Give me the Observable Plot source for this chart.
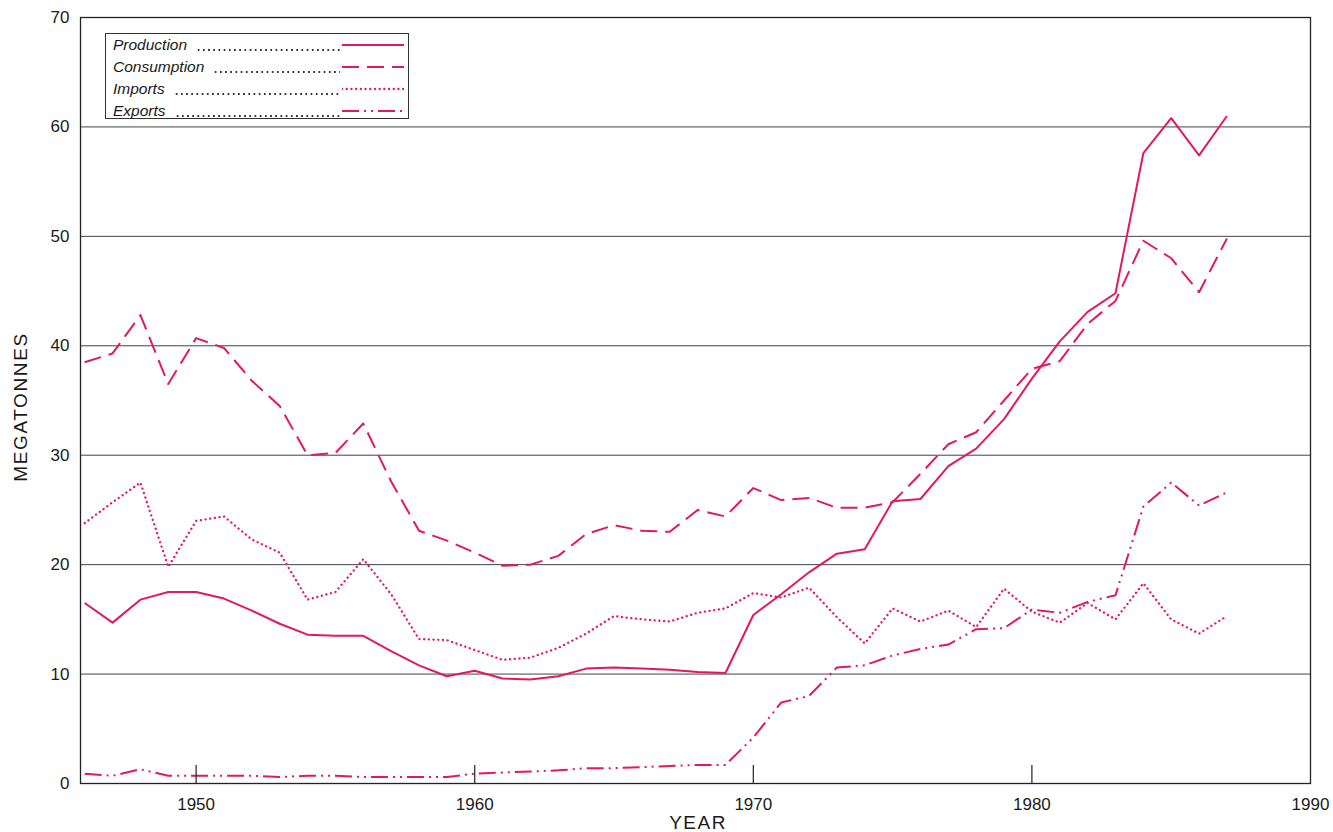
<!DOCTYPE html>
<html>
<head>
<meta charset="utf-8">
<script src="https://cdn.jsdelivr.net/npm/d3@7"></script>
<script src="https://cdn.jsdelivr.net/npm/@observablehq/plot@0.6"></script>
<style>
  html, body { margin: 0; padding: 0; background: #fff; }
  #wrap { position: relative; width: 1333px; height: 832px; overflow: hidden; font-family: "Liberation Sans", Arial, sans-serif; }
  #legend { position: absolute; left: 105px; top: 33px; width: 304px; height: 86px; border: 1px solid #333; background: #fff; box-sizing: border-box; }
  .row { display: flex; align-items: center; height: 22px; padding-left: 7px; padding-right: 4px; }
  .lab { font-style: italic; font-size: 15.5px; color: #1a1a1a; white-space: nowrap; }
  .lead { flex: 1; height: 4px; margin-left: 9px; margin-right: 2px; position: relative; top: 5px;
          background-image: radial-gradient(circle, #333 0.85px, transparent 1.15px);
          background-size: 5.2px 4px; background-repeat: repeat-x; background-position: left center; }
  .ylab { position: absolute; left: 21px; top: 407px; transform: translate(-50%, -50%) rotate(-90deg); font-size: 19px; letter-spacing: 1.6px; color: #1a1a1a; white-space: nowrap; }
  .xlab { position: absolute; left: 698px; top: 823px; transform: translate(-50%, -50%); font-size: 19px; letter-spacing: 1.5px; color: #1a1a1a; white-space: nowrap; }
</style>
</head>
<body>
<div id="wrap"></div>
<script>
const years = [1946,1947,1948,1949,1950,1951,1952,1953,1954,1955,
               1956,1957,1958,1959,1960,1961,1962,1963,1964,1965,
               1966,1967,1968,1969,1970,1971,1972,1973,1974,1975,
               1976,1977,1978,1979,1980,1981,1982,1983,1984,1985,
               1986,1987];
const production = [16.5,14.7,16.8,17.5,17.5,16.9,15.8,14.6,13.6,13.5,
                    13.5,12.1,10.8,9.8,10.3,9.6,9.5,9.8,10.5,10.6,
                    10.5,10.4,10.2,10.1,15.4,17.3,19.3,21.0,21.4,25.8,
                    26.0,29.0,30.6,33.3,37.0,40.4,43.1,44.8,57.6,60.8,
                    57.4,61.0];
const consumption = [38.5,39.3,42.8,36.5,40.7,39.8,36.8,34.5,30.0,30.2,
                     32.9,27.6,23.1,22.2,21.1,19.9,20.0,20.8,22.8,23.6,
                     23.1,23.0,25.0,24.4,27.0,25.9,26.1,25.2,25.2,25.7,
                     28.3,31.0,32.1,35.0,37.9,38.6,42.0,44.1,49.6,48.0,
                     44.9,49.8];
const imports = [23.8,25.7,27.5,19.8,24.0,24.4,22.3,21.1,16.8,17.5,
                 20.5,17.3,13.2,13.1,12.2,11.3,11.5,12.4,13.7,15.3,
                 15.0,14.8,15.6,16.0,17.4,17.0,17.9,15.2,12.8,16.0,
                 14.8,15.8,14.3,17.8,15.7,14.7,16.5,15.0,18.3,15.0,
                 13.7,15.3];
const exportsSeries = [0.9,0.7,1.3,0.7,0.7,0.7,0.7,0.6,0.7,0.7,
                       0.6,0.6,0.6,0.6,0.9,1.0,1.1,1.2,1.4,1.4,
                       1.5,1.6,1.7,1.7,4.2,7.4,8.0,10.6,10.8,11.7,
                       12.3,12.7,14.1,14.2,15.9,15.6,16.6,17.2,25.3,27.5,
                       25.4,26.6];
const seriesNames = ["Production", "Consumption", "Imports", "Exports"];
const yTicks = [0,10,20,30,40,50,60,70];
const gridTicks = [10,20,30,40,50,60];
const xTicks = [1950,1960,1970,1980,1990];
const xTickMarks = [1950,1960,1970,1980];

const color = "#e3195c";
const dashes = {
  Production: null,
  Consumption: "17,8",
  Imports: "0.1,4.6",
  Exports: "17,5,2,5,2,5"
};
const widths = {Production: 2, Consumption: 2, Imports: 2.3, Exports: 2};
const valuesByName = {Production: production, Consumption: consumption, Imports: imports, Exports: exportsSeries};
const table = seriesNames.map(name => years.map((yr, i) => ({year: yr, value: valuesByName[name][i], series: name})));

const lineMarks = table.map(rows => Plot.lineY(rows, {
  x: "year", y: "value", stroke: color, strokeWidth: widths[rows[0].series],
  strokeDasharray: dashes[rows[0].series],
  strokeLinecap: rows[0].series === "Imports" ? "round" : "butt",
  strokeLinejoin: "round"
}));

const chart = Plot.plot({
  width: 1333,
  height: 832,
  marginLeft: 80,
  marginRight: 23,
  marginTop: 17,
  marginBottom: 49,
  style: {fontFamily: "'Liberation Sans', Arial, sans-serif", background: "#fff", color: "#1a1a1a"},
  x: {domain: [1945.85, 1990]},
  y: {domain: [0, 70]},
  marks: [
    Plot.gridY(gridTicks, {stroke: "#222", strokeOpacity: 0.85, strokeWidth: 1}),
    ...lineMarks,
    Plot.axisX(xTickMarks, {tickSize: -18, tickFormat: () => "", stroke: "#222", strokeWidth: 1.2, label: null}),
    Plot.axisX(xTicks, {tickSize: 0, tickPadding: 14, fontSize: 17, tickFormat: d3.format("d"), label: null}),
    Plot.axisY(yTicks, {tickSize: 0, tickPadding: 11, fontSize: 17, label: null}),
    Plot.frame({stroke: "#222", strokeWidth: 1.3})
  ]
});

const wrap = document.getElementById("wrap");
wrap.appendChild(chart);

// legend
const legend = document.createElement("div");
legend.id = "legend";
seriesNames.forEach(name => {
  const row = document.createElement("div");
  row.className = "row";
  const lab = document.createElement("span");
  lab.className = "lab";
  lab.textContent = name;
  const lead = document.createElement("span");
  lead.className = "lead";
  const svg = d3.create("svg").attr("width", 62).attr("height", 10);
  svg.append("line").attr("x1", 0).attr("x2", 62).attr("y1", 5).attr("y2", 5)
    .attr("stroke", color).attr("stroke-width", widths[name])
    .attr("stroke-dasharray", dashes[name] || null)
    .attr("stroke-linecap", name === "Imports" ? "round" : "butt");
  row.appendChild(lab);
  row.appendChild(lead);
  row.appendChild(svg.node());
  legend.appendChild(row);
});
wrap.appendChild(legend);

const ylab = document.createElement("div");
ylab.className = "ylab";
ylab.textContent = "MEGATONNES";
wrap.appendChild(ylab);
const xlab = document.createElement("div");
xlab.className = "xlab";
xlab.textContent = "YEAR";
wrap.appendChild(xlab);
</script>
</body>
</html>
